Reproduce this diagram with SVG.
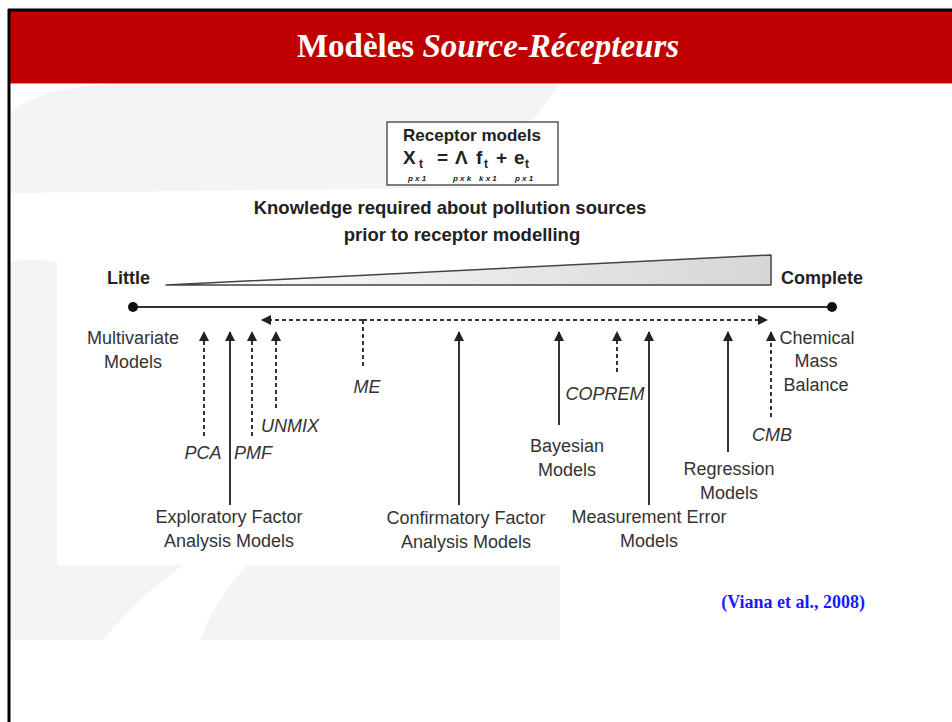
<svg xmlns="http://www.w3.org/2000/svg" width="952" height="722" viewBox="0 0 952 722">
<defs>
<style>
.lbl{font-family:"Liberation Sans",Arial,sans-serif;font-size:18px;fill:#333;}
.it{font-style:italic;}
.bd{font-family:"Liberation Sans",Arial,sans-serif;font-weight:bold;fill:#222;}
.sol{stroke:#333;stroke-width:2;fill:none;}
.dsh{stroke:#333;stroke-width:2;fill:none;stroke-dasharray:4,3;}
.wm{fill:#f4f4f4;}
</style>
<marker id="ah" viewBox="0 0 10 10" refX="9" refY="5" markerWidth="5" markerHeight="5" orient="auto" markerUnits="strokeWidth">
<path d="M0,0 L10,5 L0,10 z" fill="#222"/>
</marker>
<linearGradient id="wg" x1="0" y1="0" x2="1" y2="0">
<stop offset="0" stop-color="#ffffff"/>
<stop offset="1" stop-color="#d6d6d6"/>
</linearGradient>
</defs>
<rect width="952" height="722" fill="#fff"/>
<!-- watermark -->
<g id="watermark">
<path class="wm" d="M10,112 Q40,88 110,84 L560,84 Q520,140 470,188 L10,193 Z"/>
<path class="wm" d="M10,262 Q30,258 57,262 L57,565 L560,565 L560,640 L10,640 Z"/>
<path d="M183,565 L247,565 Q215,600 200,640 L103,640 Q140,595 183,565 Z" fill="#fff"/>
</g>
<!-- header -->
<g id="header">
<rect x="10" y="11" width="942" height="72" fill="#c00000"/>
<line x1="10" y1="83.5" x2="952" y2="83.5" stroke="#f08a8a" stroke-width="1"/>
<line x1="8" y1="10" x2="952" y2="10" stroke="#000" stroke-width="3"/>
<line x1="9" y1="9" x2="9" y2="722" stroke="#000" stroke-width="3"/>
<text x="488" y="57" text-anchor="middle" font-family="'Liberation Serif','Times New Roman',serif" font-weight="bold" font-size="33" fill="#fff">Modèles <tspan font-style="italic">Source-Récepteurs</tspan></text>
</g>
<!-- equation box -->
<g id="receptor-box">
<rect x="387" y="122" width="171" height="63" fill="#fff" stroke="#555" stroke-width="1.5"/>
<text x="472" y="141" text-anchor="middle" class="bd" font-size="17">Receptor models</text>
<text class="bd" font-size="19" y="164"><tspan x="403">X</tspan><tspan x="419" y="168" font-size="12">t</tspan><tspan x="437" y="164">=</tspan><tspan x="455">Λ</tspan><tspan x="476">f</tspan><tspan x="484" y="168" font-size="12">t</tspan><tspan x="496" y="164">+</tspan><tspan x="514">e</tspan><tspan x="525" y="168" font-size="12">t</tspan></text>
<text class="bd" font-size="8" font-style="italic" y="181" fill="#333"><tspan x="408">p x 1</tspan><tspan x="453">p x k</tspan><tspan x="479">k x 1</tspan><tspan x="515">p x 1</tspan></text>
</g>
<g id="heading">
<text x="450" y="214" text-anchor="middle" class="bd" font-size="18.5">Knowledge required about pollution sources</text>
<text x="462" y="241" text-anchor="middle" class="bd" font-size="18.5">prior to receptor modelling</text>
</g>
<g id="scale">
<text x="107" y="284" class="bd" font-size="18">Little</text>
<text x="781" y="284" class="bd" font-size="18">Complete</text>
<path d="M166,285 L771,255 L771,285 Z" fill="url(#wg)" stroke="#444" stroke-width="1.5" stroke-linejoin="round"/>
<line x1="133" y1="307" x2="832" y2="307" stroke="#333" stroke-width="2"/>
<circle cx="133" cy="307" r="5" fill="#111"/>
<circle cx="832" cy="307" r="5" fill="#111"/>
</g>
<!-- connectors -->
<g id="connectors">
<line class="dsh" x1="363" y1="320" x2="262" y2="320" marker-end="url(#ah)"/>
<line class="dsh" x1="363" y1="320" x2="767" y2="320" marker-end="url(#ah)"/>
<line class="dsh" x1="363" y1="320" x2="363" y2="366"/>
<line class="dsh" x1="204" y1="436" x2="204" y2="332" marker-end="url(#ah)"/>
<line class="sol" x1="230" y1="505" x2="230" y2="332" marker-end="url(#ah)"/>
<line class="dsh" x1="252" y1="436" x2="252" y2="332" marker-end="url(#ah)"/>
<line class="dsh" x1="276" y1="408" x2="276" y2="332" marker-end="url(#ah)"/>
<line class="sol" x1="459" y1="505" x2="459" y2="332" marker-end="url(#ah)"/>
<line class="sol" x1="559" y1="425" x2="559" y2="332" marker-end="url(#ah)"/>
<line class="dsh" x1="617" y1="372" x2="617" y2="332" marker-end="url(#ah)"/>
<line class="sol" x1="649" y1="505" x2="649" y2="332" marker-end="url(#ah)"/>
<line class="sol" x1="728" y1="452" x2="728" y2="332" marker-end="url(#ah)"/>
<line class="dsh" x1="771" y1="417" x2="771" y2="332" marker-end="url(#ah)"/>
</g>
<!-- labels -->
<g id="multivariate"><text class="lbl" text-anchor="middle"><tspan x="133" y="344">Multivariate</tspan><tspan x="133" y="368">Models</tspan></text></g>
<g id="cmb-group"><text class="lbl" text-anchor="middle"><tspan x="817" y="344">Chemical</tspan><tspan x="816" y="367">Mass</tspan><tspan x="816" y="391">Balance</tspan></text></g>
<g id="me"><text class="lbl it" x="367" y="393" text-anchor="middle">ME</text></g>
<g id="pca"><text class="lbl it" x="203" y="459" text-anchor="middle">PCA</text></g>
<g id="pmf"><text class="lbl it" x="253" y="459" text-anchor="middle">PMF</text></g>
<g id="unmix"><text class="lbl it" x="290" y="432" text-anchor="middle">UNMIX</text></g>
<g id="efa"><text class="lbl" text-anchor="middle"><tspan x="229" y="523">Exploratory Factor</tspan><tspan x="229" y="547">Analysis Models</tspan></text></g>
<g id="cfa"><text class="lbl" text-anchor="middle"><tspan x="466" y="524">Confirmatory Factor</tspan><tspan x="466" y="548">Analysis Models</tspan></text></g>
<g id="bayes"><text class="lbl" text-anchor="middle"><tspan x="567" y="452">Bayesian</tspan><tspan x="567" y="476">Models</tspan></text></g>
<g id="coprem"><text class="lbl it" x="605" y="400" text-anchor="middle">COPREM</text></g>
<g id="mem"><text class="lbl" text-anchor="middle"><tspan x="649" y="523">Measurement Error</tspan><tspan x="649" y="547">Models</tspan></text></g>
<g id="regr"><text class="lbl" text-anchor="middle"><tspan x="729" y="475">Regression</tspan><tspan x="729" y="499">Models</tspan></text></g>
<g id="cmb"><text class="lbl it" x="772" y="441" text-anchor="middle">CMB</text></g>
<g id="citation"><text x="865" y="608" text-anchor="end" font-family="'Liberation Serif','Times New Roman',serif" font-weight="bold" font-size="18" fill="#1a1aff">(Viana et al., 2008)</text></g>
</svg>
